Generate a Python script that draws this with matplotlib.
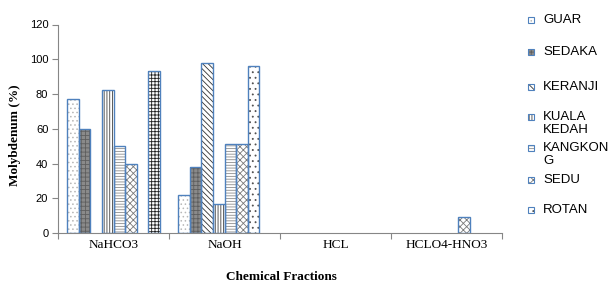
import matplotlib
matplotlib.use("Agg")
import matplotlib.pyplot as plt
from matplotlib.patches import Rectangle
import numpy as np

categories = ["NaHCO3", "NaOH", "HCL", "HCLO4-HNO3"]
series = ["GUAR", "SEDAKA", "KERANJI", "KUALA\nKEDAH", "KANGKON\nG", "SEDU", "ROTAN", ""]

guar = [77, 22, 0, 0]
sedaka = [60, 38, 0, 0]
keranji = [0, 98, 0, 0]
kuala_kedah = [82.5, 16.5, 0, 0]
kangkong = [50, 51, 0, 0]
sedu = [40, 51, 0, 9]
rotan = [0, 96, 0, 0]
unlabeled = [93, 0, 0, 0]

values = [guar, sedaka, keranji, kuala_kedah, kangkong, sedu, rotan, unlabeled]

# face colour, hatch, hatch colour
styles = [
    ("white", "....", "#b8b8b8"),
    ("#8a8a8a", "++++", "#5e5e5e"),
    ("white", "\\\\\\\\\\\\", "#303030"),
    ("white", "||||||", "#404040"),
    ("white", "------", "#8c8c8c"),
    ("white", "xxxxx", "#7a7a7a"),
    ("white", "...", "#505050"),
    ("white", "+++++", "#202020"),
]
EDGE = "#4f81bd"
AXIS = "#868686"

plt.rcParams["hatch.linewidth"] = 0.6

fig = plt.figure(figsize=(6.12, 2.86), dpi=100)
ax = fig.add_axes([58 / 612, 1 - 233 / 286, 444 / 612, 208.5 / 286])

x = np.arange(len(categories))
n = len(series)
w = 0.105
for k, (vals, (fc, hatch, hc)) in enumerate(zip(values, styles)):
    pos = x - n * w / 2 + w * (k + 0.5)
    vals = np.array(vals, dtype=float)
    keep = vals > 0
    ax.bar(pos[keep], vals[keep], w, color=fc, hatch=hatch, edgecolor=hc, linewidth=0, zorder=2)
    ax.bar(pos[keep], vals[keep], w, fill=False, edgecolor=EDGE, linewidth=1.0, zorder=3)

ax.set_xlim(-0.5, len(categories) - 0.5)
ax.set_ylim(0, 120)
ax.set_yticks(range(0, 121, 20))
ax.tick_params(axis="y", labelsize=8, colors=AXIS, labelcolor="black", length=4, pad=3)
for t in ax.get_yticklabels():
    t.set_fontfamily("Liberation Sans")

ax.set_xticks(np.arange(-0.5, len(categories), 1.0))
ax.set_xticklabels([])
ax.tick_params(axis="x", which="major", colors=AXIS, length=4)
ax.set_xticks(x, minor=True)
ax.set_xticklabels(categories, minor=True, fontfamily="Liberation Serif", fontsize=9.5)
ax.tick_params(axis="x", which="minor", length=0, pad=4)

for s in ["top", "right"]:
    ax.spines[s].set_visible(False)
for s in ["left", "bottom"]:
    ax.spines[s].set_color(AXIS)
    ax.spines[s].set_linewidth(0.8)

fig.text(15 / 612, 1 - 135 / 286, "Molybdenum (%)", rotation=90, ha="center", va="center",
         fontfamily="Liberation Serif", fontweight="bold", fontsize=9.5)
fig.text(281 / 612, 1 - 277 / 286, "Chemical Fractions", ha="center", va="center",
         fontfamily="Liberation Serif", fontweight="bold", fontsize=9.5)

# legend, drawn by hand to keep Excel-like spacing
leg_y = [20, 52, 87, 117, 148, 180, 210]
for (label, (fc, hatch, hc), yy) in zip(series[:7], styles[:7], leg_y):
    r = Rectangle((528 / 612, 1 - (yy + 3) / 286), 6 / 612, 6 / 286, transform=fig.transFigure,
                  facecolor=fc, hatch=hatch, edgecolor=hc, linewidth=0)
    fig.add_artist(r)
    r2 = Rectangle((528 / 612, 1 - (yy + 3) / 286), 6 / 612, 6 / 286, transform=fig.transFigure,
                   fill=False, edgecolor=EDGE, linewidth=0.8)
    fig.add_artist(r2)
    fig.text(543 / 612, 1 - (yy - 6) / 286, label, ha="left", va="top",
             fontfamily="Liberation Sans", fontsize=9.5, linespacing=1.15)

fig.savefig("out.png", dpi=100)
